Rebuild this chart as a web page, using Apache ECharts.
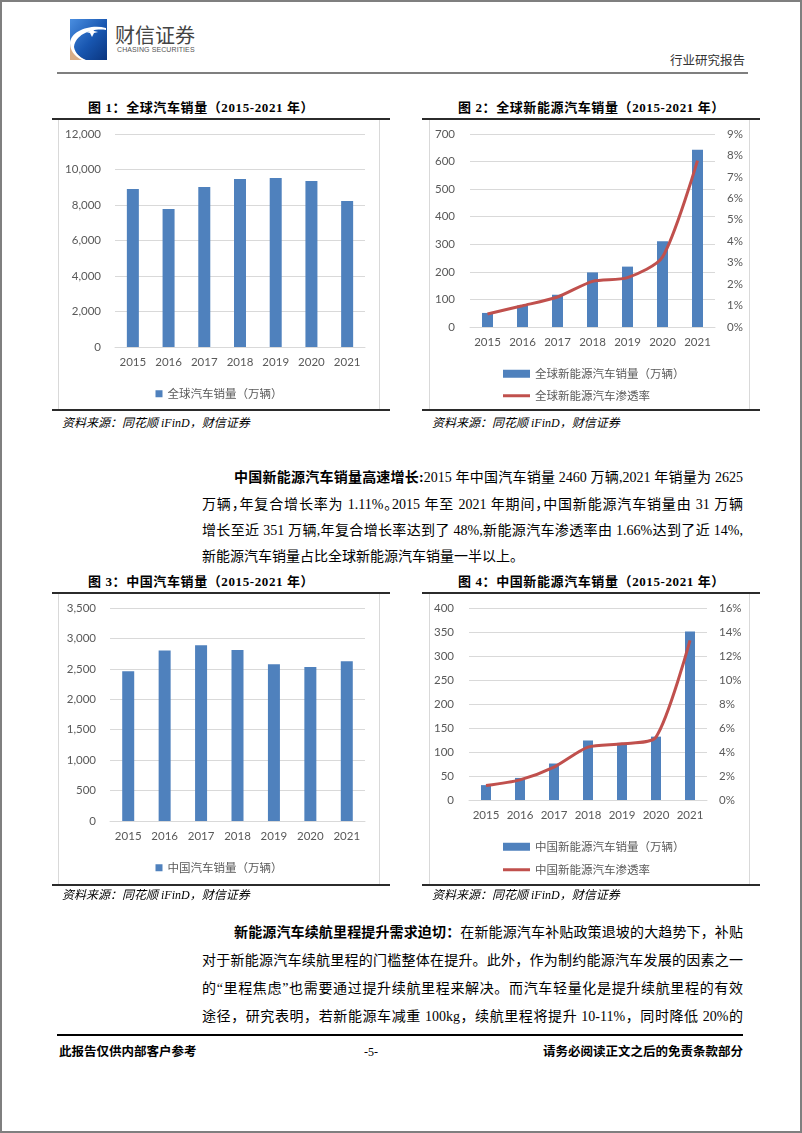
<!DOCTYPE html>
<html><head><meta charset="utf-8">
<script src="https://cdn.jsdelivr.net/npm/echarts@6/dist/echarts.min.js"></script>
<style>
html,body{margin:0;padding:0;background:#fff;}
#page{position:relative;width:802px;height:1133px;overflow:hidden;font-family:"Liberation Serif","Noto Sans CJK SC",serif;color:#000;}
.a{position:absolute;}
.frame{position:absolute;left:0;top:0;width:802px;height:1133px;box-sizing:border-box;border:2px solid #7f7f7f;pointer-events:none;}
.rule{position:absolute;height:2px;background:#2b2b2b;}
.box{position:absolute;box-sizing:border-box;border-left:1px solid #d9d9d9;border-right:1px solid #d9d9d9;}
.ttl{position:absolute;font-size:13px;line-height:16px;font-weight:bold;white-space:nowrap;letter-spacing:0.6px;}
.src{position:absolute;font-size:12px;line-height:16px;font-style:italic;white-space:nowrap;}
.ln{position:absolute;font-size:14px;line-height:20px;white-space:nowrap;text-align:justify;text-align-last:justify;}
.h{font-feature-settings:"halt";}
.chart{position:absolute;}
</style></head>
<body><div id="page">
<svg class="a" style="left:70px;top:19px" width="37" height="41" viewBox="0 0 37 41">
<defs><linearGradient id="g1" x1="0" y1="0" x2="1" y2="1"><stop offset="0" stop-color="#4a8ee0"/><stop offset="0.55" stop-color="#1856b0"/><stop offset="1" stop-color="#0a357f"/></linearGradient></defs>
<rect x="0" y="0" width="37" height="41" fill="url(#g1)"/>
<path d="M0,26 L0,41 L15,41 C8,37 3,32 0,26 Z" fill="#d8ad86"/>
<path d="M0,24 C1,12 20,5 36,9 L36,11 C22,9 6,15 4,28 C5,34 10,39 16,41 L12,41 C4,37 0,31 0,24 Z" fill="#ffffff"/>
<path d="M22,8 L24,12 L28,13 L24,14 L22,18 L20,14 L16,13 L20,12 Z" fill="#ffffff"/>
</svg>
<div class="a" style="left:115px;top:23px;font-family:'Noto Sans CJK SC';font-size:20px;line-height:24px;color:#444;">财信证券</div>
<div class="a" style="left:117px;top:45px;font-family:'Liberation Sans';font-size:7px;line-height:9px;color:#555;letter-spacing:0.1px;">CHASING SECURITIES</div>
<div class="a" style="left:670px;top:52px;font-family:'Noto Sans CJK SC';font-size:12.5px;line-height:16px;color:#333;">行业研究报告</div>
<div class="a" style="left:57px;top:72px;width:691px;height:2px;background:#7f7f7f;"></div>

<div class="ttl" style="left:88px;top:100px;">图 1：全球汽车销量（2015-2021 年）</div>
<div class="ttl" style="left:458px;top:100px;">图 2：全球新能源汽车销量（2015-2021 年）</div>
<div class="rule" style="left:52px;top:118px;width:338px;"></div>
<div class="rule" style="left:422px;top:118px;width:338px;"></div>
<div class="box" style="left:58px;top:120px;width:322px;height:290px;"></div>
<div class="box" style="left:429px;top:120px;width:321px;height:290px;"></div>
<div id="c1" class="chart" style="left:58px;top:119px;width:322px;height:291px;"></div>
<div id="c2" class="chart" style="left:429px;top:119px;width:321px;height:291px;"></div>
<div class="rule" style="left:52px;top:409px;width:338px;"></div>
<div class="rule" style="left:422px;top:409px;width:338px;"></div>
<div class="src" style="left:62px;top:415px;">资料来源：同花顺 iFinD，财信证券</div>
<div class="src" style="left:432px;top:415px;">资料来源：同花顺 iFinD，财信证券</div>

<div class="ln" style="left:234px;top:468px;width:509px;"><b>中国新能源汽车销量高速增长:</b>2015 年中国汽车销量 2460 万辆,2021 年销量为 2625</div>
<div class="ln" style="left:202px;top:495px;width:541px;">万辆<span class="h">，</span>年复合增长率为 1.11%<span class="h">。</span>2015 年至 2021 年期间<span class="h">，</span>中国新能源汽车销量由 31 万辆</div>
<div class="ln" style="left:202px;top:521px;width:541px;">增长至近 351 万辆,年复合增长率达到了 48%,新能源汽车渗透率由 1.66%达到了近 14%,</div>
<div class="ln" style="left:202px;top:547px;text-align:left;text-align-last:left;">新能源汽车销量占比全球新能源汽车销量一半以上。</div>

<div class="ttl" style="left:88px;top:574px;">图 3：中国汽车销量（2015-2021 年）</div>
<div class="ttl" style="left:458px;top:574px;">图 4：中国新能源汽车销量（2015-2021 年）</div>
<div class="rule" style="left:52px;top:592px;width:338px;"></div>
<div class="rule" style="left:422px;top:592px;width:338px;"></div>
<div class="box" style="left:58px;top:594px;width:322px;height:290px;"></div>
<div class="box" style="left:429px;top:594px;width:321px;height:290px;"></div>
<div id="c3" class="chart" style="left:58px;top:593px;width:322px;height:292px;"></div>
<div id="c4" class="chart" style="left:429px;top:593px;width:321px;height:292px;"></div>
<div class="rule" style="left:52px;top:884px;width:338px;"></div>
<div class="rule" style="left:422px;top:884px;width:338px;"></div>
<div class="src" style="left:62px;top:887px;">资料来源：同花顺 iFinD，财信证券</div>
<div class="src" style="left:432px;top:887px;">资料来源：同花顺 iFinD，财信证券</div>

<div class="ln" style="left:234px;top:923px;width:509px;"><b>新能源汽车续航里程提升需求迫切：</b>在新能源汽车补贴政策退坡的大趋势下，补贴</div>
<div class="ln" style="left:202px;top:951px;width:541px;">对于新能源汽车续航里程的门槛整体在提升。此外，作为制约能源汽车发展的因素之一</div>
<div class="ln" style="left:202px;top:979px;width:541px;">的“里程焦虑”也需要通过提升续航里程来解决。而汽车轻量化是提升续航里程的有效</div>
<div class="ln" style="left:202px;top:1007px;width:541px;">途径，研究表明，若新能源车减重 100kg，续航里程将提升 10-11%，同时降低 20%的</div>

<div class="a" style="left:57px;top:1034px;width:686px;height:2px;background:#000;"></div>
<div class="a" style="left:59px;top:1044px;font-size:12.5px;line-height:16px;font-weight:bold;">此报告仅供内部客户参考</div>
<div class="a" style="left:361px;top:1044px;width:20px;text-align:center;font-size:12px;line-height:16px;">-5-</div>
<div class="a" style="left:443px;top:1044px;width:300px;text-align:right;font-size:12.5px;line-height:16px;font-weight:bold;">请务必阅读正文之后的免责条款部分</div>
<div class="frame"></div>
</div>
<script>
// ---- data ----
const years = ['2015', '2016', '2017', '2018', '2019', '2020', '2021'];
const globalSales = [8900, 7780, 9010, 9470, 9520, 9350, 8230];
const globalNevSales = [51, 78, 117, 198, 219, 311, 643];
const globalNevRate = [0.61, 0.99, 1.40, 2.13, 2.30, 3.26, 7.76];
const chinaSales = [2460, 2803, 2888, 2808, 2577, 2531, 2625];
const chinaNevSales = [31, 46, 76, 124, 119, 132, 351];
const chinaNevRate = [1.2, 1.68, 2.74, 4.4, 4.68, 5.24, 13.3];
const globalTicksLeft = [0, 12000, 2000];
const globalNevTicks = [0, 700, 100];
const globalNevRateTicks = [0, 9, 1];
const chinaTicks = [0, 3500, 500];
const chinaNevTicks = [0, 400, 50];
const chinaNevRateTicks = [0, 16, 2];

const BLUE = '#4F81BD', RED = '#C0504D', LBL = '#595959', GRID = '#d9d9d9';
const NUM_FONT = 'Lato, "Noto Sans CJK SC", sans-serif';
const CJK_FONT = '"Noto Sans CJK SC", sans-serif';

function xAxis() {
  return { type: 'category', data: years, axisLine: { lineStyle: { color: GRID } }, axisTick: { show: false },
    axisLabel: { color: LBL, fontSize: 11.5, margin: 10, interval: 0, hideOverlap: false, fontFamily: NUM_FONT } };
}
function yAxis(t, fmt, margin, extra) {
  return Object.assign({ type: 'value', min: t[0], max: t[1], interval: t[2], axisLine: { show: false }, axisTick: { show: false },
    splitLine: { lineStyle: { color: GRID, width: 1 } },
    axisLabel: { color: LBL, fontSize: 11.5, margin: margin, fontFamily: NUM_FONT, formatter: fmt } }, extra || {});
}
const comma = v => v.toLocaleString('en-US');
const pct = v => v + '%';

function singleBar(el, name, data, ticks, grid, bw) {
  const c = echarts.init(document.getElementById(el), null, { renderer: 'canvas' });
  c.setOption({
    animation: false,
    grid: grid,
    legend: { left: 'center', top: 264, itemWidth: 7, itemHeight: 7, icon: 'rect',
      textStyle: { color: LBL, fontSize: 11.5, fontFamily: CJK_FONT }, data: [name] },
    xAxis: xAxis(),
    yAxis: yAxis(ticks, comma, 14),
    series: [{ type: 'bar', name: name, data: data, barWidth: bw, itemStyle: { color: BLUE } }]
  });
}
function barLine(el, barName, lineName, bars, rate, t1, t2, grid, bw, lt) {
  const c = echarts.init(document.getElementById(el), null, { renderer: 'canvas' });
  c.setOption({
    animation: false,
    grid: grid,
    legend: [
      { orient: 'vertical', left: 69, top: lt[0], itemWidth: 27, itemHeight: 8, icon: 'rect',
        textStyle: { color: LBL, fontSize: 11.5, fontFamily: CJK_FONT }, data: [barName] },
      { orient: 'vertical', left: 69, top: lt[1], itemWidth: 27, itemHeight: 3, icon: 'rect',
        textStyle: { color: LBL, fontSize: 11.5, fontFamily: CJK_FONT }, data: [lineName] }
    ],
    xAxis: xAxis(),
    yAxis: [yAxis(t1, null, 15), yAxis(t2, pct, 12, { position: 'right', splitLine: { show: false } })],
    series: [
      { type: 'bar', name: barName, data: bars, barWidth: bw, itemStyle: { color: BLUE } },
      { type: 'line', name: lineName, data: rate, yAxisIndex: 1, smooth: 0.25, symbol: 'none', z: 3,
        lineStyle: { color: RED, width: 3 }, itemStyle: { color: RED } }
    ]
  });
}
singleBar('c1', '全球汽车销量（万辆）', globalSales, globalTicksLeft, { left: 57, right: 15, top: 15, bottom: 63 }, 12);
barLine('c2', '全球新能源汽车销量（万辆）', '全球新能源汽车渗透率', globalNevSales, globalNevRate, globalNevTicks, globalNevRateTicks,
  { left: 41, right: 35, top: 15, bottom: 83 }, 11, [244, 266]);
singleBar('c3', '中国汽车销量（万辆）', chinaSales, chinaTicks, { left: 52, right: 15, top: 15, bottom: 64 }, 12);
barLine('c4', '中国新能源汽车销量（万辆）', '中国新能源汽车渗透率', chinaNevSales, chinaNevRate, chinaNevTicks, chinaNevRateTicks,
  { left: 40, right: 43, top: 15, bottom: 85 }, 10, [243, 266]);
</script>
</body></html>
